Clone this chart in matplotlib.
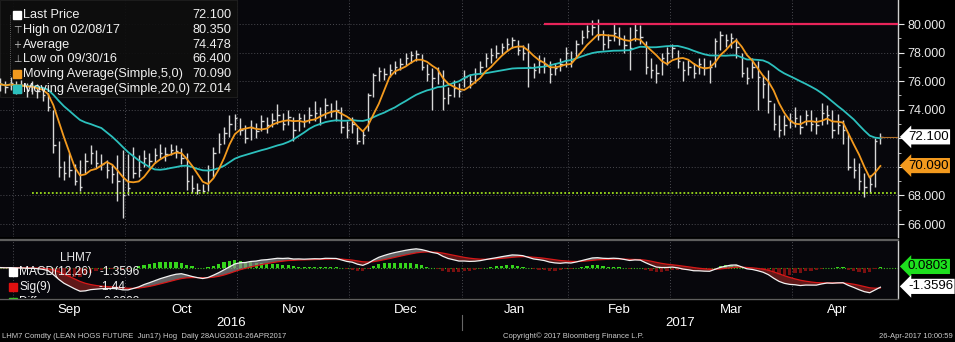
import numpy as np
import pandas as pd
import matplotlib
matplotlib.use("Agg")
import matplotlib.pyplot as plt
import matplotlib.transforms as mtransforms
from matplotlib.patches import Rectangle

plt.rcParams['font.family'] = ['Liberation Sans', 'DejaVu Sans']

# trading days shown on the chart
holidays = ['2016-09-05', '2016-11-24', '2016-12-26', '2017-01-02',
            '2017-01-16', '2017-02-20', '2017-04-14']
dates = pd.bdate_range('2016-08-29', '2017-04-26')
dates = dates[~dates.isin(pd.to_datetime(holidays))]

close = [75.8, 75.6, 75.9, 75.5, 75.7, 75.4, 75.6, 75.3, 75.0, 74.2,
         71.5, 70.0, 69.6, 69.8, 69.0, 68.6, 70.4, 71.0, 70.3, 70.2,
         69.8, 69.5, 69.0, 68.0, 68.5, 69.6, 69.8, 70.6, 70.4, 70.8,
         71.0, 70.9, 71.2, 71.1, 70.6, 69.0, 68.5, 68.4, 68.3, 69.8,
         71.0, 71.6, 72.4, 73.0, 73.4, 72.6, 72.0, 72.8, 72.5, 73.2,
         72.9, 73.3, 73.6, 73.0, 73.5, 72.6, 73.4, 73.2, 73.6, 73.8,
         73.6, 74.3, 73.9, 74.0, 72.8, 72.6, 73.0, 71.8, 72.2, 75.0,
         76.4, 76.7, 76.5, 76.8, 77.0, 77.2, 77.6, 77.8, 77.9, 77.0,
         76.5, 76.2, 76.6, 74.8, 75.0, 75.5, 75.3, 76.3, 76.0, 76.5,
         77.0, 77.6, 77.8, 78.0, 78.4, 78.6, 78.9, 78.2, 78.0, 77.0,
         76.8, 77.4, 77.2, 76.5, 76.9, 77.2, 78.0, 77.4, 78.6, 79.1,
         79.5, 79.8, 79.2, 78.6, 78.9, 79.4, 79.0, 78.5, 78.3, 79.6,
         79.1, 77.0, 76.8, 76.6, 77.6, 78.0, 78.3, 77.4, 76.8, 77.0,
         76.6, 77.2, 76.9, 77.0, 78.8, 79.2, 78.9, 79.0, 78.4, 76.6,
         76.2, 77.0, 76.3, 75.8, 74.6, 73.0, 72.6, 72.9, 73.2, 73.4,
         72.8, 73.6, 73.0, 72.9, 73.8, 73.6, 72.6, 72.9, 72.6, 70.0,
         69.8, 69.0, 68.6, 68.8, 71.8, 72.1]

high = [76.2, 76.0, 76.3, 76.0, 76.1, 75.9, 76.0, 75.8, 75.5, 75.2,
        74.0, 71.8, 70.4, 71.0, 70.2, 70.5, 71.0, 71.5, 71.2, 70.9,
        70.5, 70.2, 70.8, 71.2, 70.9, 71.4, 70.8, 71.2, 71.0, 71.3,
        71.6, 71.4, 71.6, 71.5, 71.3, 71.0, 69.4, 68.9, 68.8, 70.1,
        71.4, 72.4, 72.8, 73.6, 73.7, 73.4, 72.9, 73.3, 73.1, 73.6,
        73.5, 73.8, 74.4, 73.8, 74.0, 73.5, 73.8, 73.7, 74.2, 74.6,
        74.2, 74.8, 74.5, 74.7, 74.2, 73.2, 73.5, 72.8, 72.6, 75.2,
        76.6, 77.0, 76.9, 77.2, 77.4, 77.6, 78.0, 78.1, 78.2, 77.9,
        77.2, 76.9, 77.0, 76.8, 75.6, 76.1, 75.9, 76.8, 76.5, 76.9,
        77.4, 78.0, 78.3, 78.5, 78.7, 79.0, 79.1, 78.9, 78.5, 78.7,
        77.3, 77.8, 77.7, 77.4, 77.3, 77.6, 78.4, 78.1, 78.9, 79.6,
        79.9, 80.3, 80.35, 79.6, 79.3, 80.1, 79.8, 79.2, 79.8, 80.0,
        79.9, 78.8, 77.6, 77.2, 78.0, 78.4, 78.6, 78.2, 77.4, 77.5,
        77.3, 77.6, 77.6, 77.5, 79.0, 79.5, 79.3, 79.4, 79.0, 78.0,
        77.0, 77.6, 77.4, 76.4, 76.8, 74.5, 73.6, 73.6, 73.8, 74.2,
        73.6, 74.0, 74.0, 73.5, 74.5, 74.3, 74.0, 73.7, 73.3, 72.4,
        70.6, 70.3, 69.6, 69.4, 72.0, 72.4]

low = [75.3, 75.2, 75.4, 75.1, 75.2, 74.9, 75.1, 74.8, 74.6, 73.9,
       71.0, 69.3, 69.1, 69.3, 68.7, 68.3, 69.6, 70.2, 69.9, 69.8,
       69.2, 68.9, 67.6, 66.4, 68.0, 69.2, 69.3, 70.0, 69.9, 70.3,
       70.6, 70.4, 70.8, 70.6, 70.2, 68.4, 68.2, 68.1, 68.2, 68.3,
       69.3, 71.0, 71.6, 72.1, 72.6, 72.2, 71.7, 71.9, 72.0, 72.5,
       72.4, 72.8, 73.0, 72.6, 72.9, 71.8, 72.5, 72.8, 73.1, 73.2,
       72.9, 73.4, 73.5, 73.2, 72.4, 72.0, 72.4, 71.6, 71.6, 72.5,
       74.9, 76.0, 76.1, 76.3, 76.5, 76.8, 77.1, 77.3, 77.4, 76.8,
       76.0, 74.0, 75.8, 74.0, 74.4, 74.9, 74.9, 75.6, 75.5, 75.9,
       76.5, 77.0, 77.3, 77.6, 77.9, 78.1, 78.3, 77.8, 77.5, 75.6,
       76.2, 76.6, 76.6, 75.9, 76.4, 76.7, 77.0, 77.0, 77.6, 78.6,
       79.0, 79.2, 78.9, 78.2, 78.3, 78.8, 78.5, 78.0, 76.8, 78.8,
       78.6, 76.5, 76.2, 75.9, 76.4, 77.1, 77.6, 76.9, 76.0, 76.4,
       76.2, 76.5, 76.4, 75.9, 77.0, 78.2, 78.4, 78.3, 77.6, 76.3,
       75.8, 76.2, 74.0, 74.8, 73.8, 72.6, 72.1, 72.2, 72.7, 72.8,
       72.3, 72.9, 72.5, 72.3, 72.9, 73.0, 72.0, 72.3, 71.6, 69.8,
       69.2, 68.4, 67.9, 68.2, 68.6, 71.6]

resistance = 80.0
resistance_from = '2017-01-25'
support = 68.175
support_from = '2016-09-07'

legend_names = ['Last Price', 'High on 02/08/17', 'Average', 'Low on 09/30/16',
                'Moving Average(Simple,5,0)', 'Moving Average(Simple,20,0)']
legend_values = ['72.100', '80.350', '74.478', '66.400', '70.090', '72.014']
last_price = 72.100
last_ma5 = 70.090
macd_last = -1.3596
sig_last = -1.44
diff_last = 0.0803
price_ticks = [66, 68, 70, 72, 74, 76, 78, 80]
# tick labels hidden behind the last-value boxes
covered_ticks = [70, 72]

BG = '#000000'
PLOT_BG = '#07070c'
ORANGE = '#f39a1e'
TEAL = '#2cc0bd'
GRID = '#4a4a50'

x = np.arange(len(close))
s = pd.Series(close)
ma5 = s.rolling(5, min_periods=1).mean()
ma20 = s.rolling(20, min_periods=1).mean()
macd = s.ewm(span=12, adjust=False).mean() - s.ewm(span=26, adjust=False).mean()
sig = macd.ewm(span=9, adjust=False).mean()
diff = macd - sig

fig = plt.figure(figsize=(9.55, 3.42), dpi=100, facecolor=BG)
W, H = 955, 342
ax = fig.add_axes([0, 1 - 237 / H, 898 / W, 237 / H], facecolor=PLOT_BG)
ax2 = fig.add_axes([0, 1 - 298 / H, 898 / W, 57 / H], facecolor=PLOT_BG, sharex=ax)

# month boundaries from the dates
months = dates.to_period('M')
starts = [0] + [i for i in range(1, len(dates)) if months[i] != months[i - 1]]
edges = [st - 0.5 for st in starts] + [len(dates) - 0.5]
xmax = 168.3

for a in (ax, ax2):
    for e in edges[1:-1]:
        a.axvline(e, color=GRID, lw=0.7, ls=(0, (1, 2)), zorder=0)
    for sp in ('top', 'left', 'bottom'):
        a.spines[sp].set_visible(False)
    a.spines['right'].set_color('#cfcfcf')
    a.spines['right'].set_linewidth(1.0)
    a.set_xlim(0, xmax)

# price panel
ax.set_ylim(65.09, 81.68)
for t in price_ticks:
    ax.axhline(t, color=GRID, lw=0.7, ls=(0, (1, 2)), zorder=0)
ax.vlines(x, low, high, color='#d8d8d8', lw=1.0, zorder=3)
ax.hlines(close, x, x + 0.45, color='#d8d8d8', lw=1.0, zorder=3)
ax.plot(x, ma20, color=TEAL, lw=1.3, zorder=4)
ax.plot(x, ma5, color=ORANGE, lw=1.3, zorder=5)

i_res = dates.get_loc(pd.Timestamp(resistance_from))
i_sup = dates.get_loc(pd.Timestamp(support_from))
ax.hlines(resistance, i_res, xmax, color='#e8245a', lw=1.6, zorder=4)
ax.hlines(support, i_sup, xmax, color='#9bdc1c', lw=1.3, ls=(0, (1, 1.2)), zorder=4)
ax.hlines(last_price, x[-1], xmax, color='#b0702a', lw=0.8, zorder=4)

ax.yaxis.tick_right()
ax.set_yticks(price_ticks)
ax.set_yticklabels(['' if t in covered_ticks else '%.3f' % t for t in price_ticks])
ax.set_yticks(np.arange(66, 81, 1.0), minor=True)
ax.tick_params(axis='y', colors='#e8e8e8', labelsize=9, length=4, width=0.8, pad=3)
ax.tick_params(axis='y', which='minor', colors='#cfcfcf', length=2)
ax.tick_params(axis='x', length=0, labelbottom=False)

trans = mtransforms.blended_transform_factory(ax.transAxes, ax.transData)
ax.text(1.011, last_price, '%.3f' % last_price, transform=trans, fontsize=9.5,
        color='black', va='center', ha='left', zorder=10, clip_on=False,
        bbox=dict(boxstyle='larrow,pad=0.12', fc='white', ec='none'))
ax.text(1.011, last_ma5, '%.3f' % last_ma5, transform=trans, fontsize=9.5,
        color='black', va='center', ha='left', zorder=10, clip_on=False,
        bbox=dict(boxstyle='larrow,pad=0.12', fc=ORANGE, ec='none'))

# legend box
ax.add_patch(Rectangle((0, 1 - 97 / 237), 237 / 898, 97 / 237, transform=ax.transAxes,
                       fc='#0e0e0e', ec='#1e1e1e', lw=0.8, zorder=2, alpha=0.92))
ax.plot([10 / 898, 10 / 898], [1 - 15 / 237, 1 - 89 / 237], transform=ax.transAxes,
        color='#777777', lw=0.6, ls=(0, (1, 1.5)), zorder=6)
glyphs = [None, '\u22a4', '+', '\u22a5', None, None]
mcols = ['white', '#bbbbbb', '#bbbbbb', '#bbbbbb', ORANGE, TEAL]
for k, (nm, val) in enumerate(zip(legend_names, legend_values)):
    yy = 1 - (15.3 + 14.7 * k) / 237
    if glyphs[k] is None:
        ax.plot([17 / 898], [yy], transform=ax.transAxes, marker='s',
                color=mcols[k], ms=6, zorder=7, clip_on=False)
    else:
        ax.text(17 / 898, yy, glyphs[k], transform=ax.transAxes, color=mcols[k],
                fontsize=7, family='DejaVu Sans', va='center', ha='center', zorder=7)
    ax.text(23 / 898, yy, nm, transform=ax.transAxes, color='#f0f0f0', fontsize=9.2,
            va='center', ha='left', zorder=7)
    ax.text(231 / 898, yy, val, transform=ax.transAxes, color='#f0f0f0', fontsize=9.2,
            va='center', ha='right', zorder=7)

# MACD panel
ax2.set_ylim(-2.2, 1.92)
ax2.axhline(0, color='#3fbf20', lw=0.8, ls=(0, (1, 1.5)), zorder=1)
ax2.bar(x, diff, width=0.6, color=np.where(diff >= 0, '#35d41c', '#7a1010'), zorder=2)
ax2.fill_between(x, macd, sig, where=macd >= sig, interpolate=True,
                 color='#8a8a8a', alpha=0.7, lw=0, zorder=3)
ax2.fill_between(x, macd, sig, where=macd < sig, interpolate=True,
                 color='#6a1a1a', alpha=0.9, lw=0, zorder=3)
ax2.plot(x, sig, color='#d81818', lw=0.9, zorder=4)
ax2.plot(x, macd, color='#f2f2f2', lw=0.9, zorder=5)
ax2.set_yticks([])
ax2.tick_params(axis='x', length=0, colors='white', labelsize=9.5, pad=4)

trans2 = mtransforms.blended_transform_factory(ax2.transAxes, ax2.transData)
ax2.text(1.011, diff_last, '%.4f' % diff_last, transform=trans2, fontsize=9.5,
         color='black', va='center', ha='left', clip_on=False,
         bbox=dict(boxstyle='larrow,pad=0.12', fc='#1ee01e', ec='none'))
ax2.text(1.011, macd_last, '%.4f' % macd_last, transform=trans2, fontsize=9.5,
         color='black', va='center', ha='left', clip_on=False,
         bbox=dict(boxstyle='larrow,pad=0.12', fc='white', ec='none'))

ax2.text(60 / 898, 1 - 17 / 57, 'LHM7', transform=ax2.transAxes, color='#e8e8e8',
         fontsize=8.5, va='center', ha='left', zorder=7)
macd_rows = [('MACD(12,26)', '%.4f' % macd_last, 'white', 140),
             ('Sig(9)', '%.2f' % sig_last, '#e01010', 125),
             ('Diff', '%.4f' % diff_last, '#35d41c', 140)]
for k, (nm, val, col, xr) in enumerate(macd_rows):
    yy = 1 - (31 + 15 * k) / 57
    ax2.plot([13 / 898], [yy], transform=ax2.transAxes, marker='s', color=col,
             ms=6, zorder=7)
    ax2.text(19 / 898, yy, nm, transform=ax2.transAxes, color='#f0f0f0', fontsize=8.6,
             va='center', ha='left', zorder=7, clip_on=True)
    ax2.text(xr / 898, yy, val, transform=ax2.transAxes, color='#f0f0f0', fontsize=8.6,
             va='center', ha='right', zorder=7, clip_on=True)

# month and year labels
centers, names = [], []
for k in range(len(starts)):
    n = edges[k + 1] - edges[k]
    if n >= 10:
        centers.append((edges[k] + min(edges[k + 1], xmax)) / 2)
        names.append(dates[starts[k]].strftime('%b'))
ax2.set_xticks(centers)
ax2.set_xticklabels(names)

years = dates.year
tb = mtransforms.blended_transform_factory(ax2.transData, ax2.transAxes)
y_split = [i for i in range(1, len(dates)) if years[i] != years[i - 1]][0] - 0.5
ax2.text(y_split / 2, -0.44, str(years[0]), transform=tb, color='white', fontsize=9.5,
         ha='center', va='center', clip_on=False)
ax2.text((y_split + xmax) / 2, -0.44, str(years[-1]), transform=tb, color='white',
         fontsize=9.5, ha='center', va='center', clip_on=False)
ax2.plot([y_split, y_split], [-0.3, -0.57], transform=tb, color='#666666', lw=0.8,
         clip_on=False)

# panel separators
fig.add_artist(plt.Line2D([0, 898 / W], [1 - 239.5 / H] * 2, color='#5e5e5e', lw=1.6))
fig.add_artist(plt.Line2D([0, 898 / W], [1 - 298.5 / H] * 2, color='#5e5e5e', lw=1.0))

fig.text(2 / W, 1 - 336 / H, 'LHM7 Comdty (LEAN HOGS FUTURE  Jun17) Hog  Daily 28AUG2016-26APR2017',
         color='#cccccc', fontsize=5.5, va='center', ha='left')
fig.text(573 / W, 1 - 336 / H, 'Copyright\u00a9 2017 Bloomberg Finance L.P.',
         color='#cccccc', fontsize=5.5, va='center', ha='center')
fig.text(953 / W, 1 - 336 / H, '26-Apr-2017 10:00:59',
         color='#cccccc', fontsize=5.5, va='center', ha='right')

fig.savefig('out.png', dpi=100, facecolor=BG)
